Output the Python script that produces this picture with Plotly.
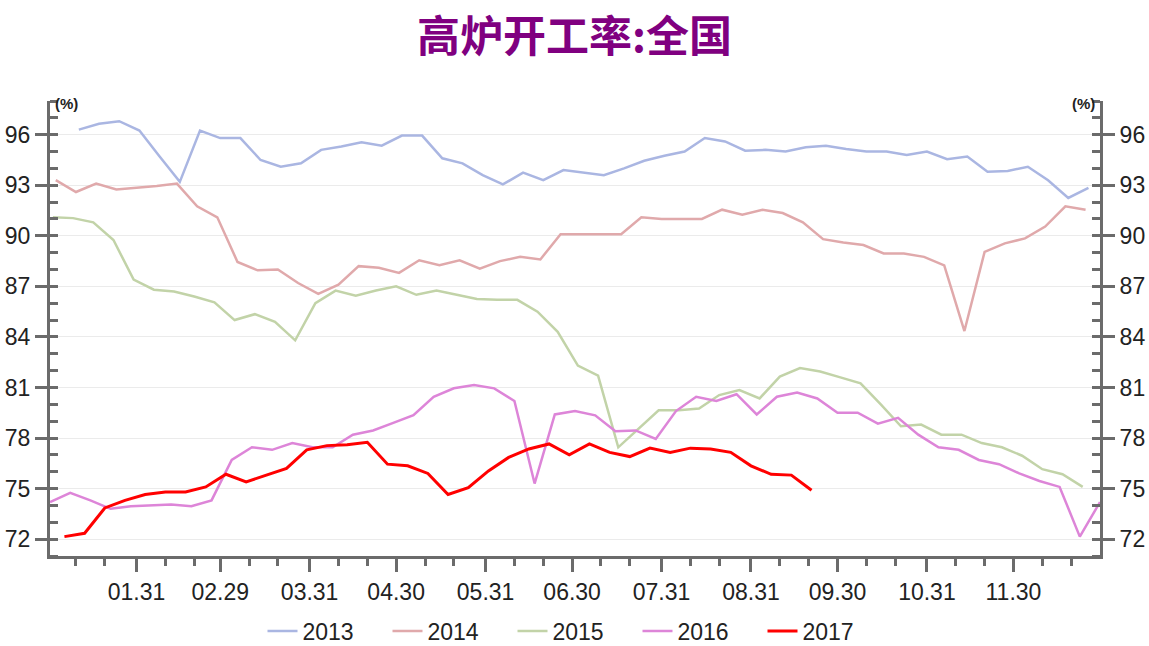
import pandas as pd
import plotly.graph_objects as go

# weekly blast furnace utilisation (%), each year mapped onto one calendar
v2013 = [96.3, 96.65, 96.8, 96.25, 94.7, 93.2, 96.25, 95.8, 95.8, 94.5, 94.1, 94.3, 95.1, 95.3, 95.55,
         95.35, 95.95, 95.95, 94.6, 94.3, 93.6, 93.05, 93.75, 93.3, 93.9, 93.75, 93.6, 94.0, 94.45, 94.75,
         95.0, 95.8, 95.6, 95.05, 95.1, 95.0, 95.25, 95.35, 95.15, 95.0, 95.0, 94.8, 95.0, 94.55, 94.7,
         93.8, 93.85, 94.1, 93.3, 92.25, 92.85]
v2014 = [93.3, 92.6, 93.1, 92.75, 92.85, 92.95, 93.1, 91.75, 91.1, 88.45, 87.95, 88.0, 87.2, 86.55, 87.1,
         88.2, 88.1, 87.8, 88.55, 88.25, 88.55, 88.05, 88.5, 88.75, 88.6, 90.1, 90.1, 90.1, 90.1, 91.1,
         91.0, 91.0, 91.0, 91.55, 91.25, 91.55, 91.35, 90.8, 89.8, 89.6, 89.45, 88.95, 88.95, 88.75, 88.25,
         84.35, 89.05, 89.55, 89.85, 90.55, 91.75, 91.55]
v2015 = [91.1, 91.05, 90.8, 89.75, 87.4, 86.8, 86.7, 86.4, 86.05, 85.0, 85.35, 84.9, 83.8, 86.0, 86.75,
         86.45, 86.75, 87.0, 86.5, 86.75, 86.5, 86.25, 86.2, 86.2, 85.5, 84.3, 82.3, 81.7, 77.45, 78.55,
         79.65, 79.65, 79.75, 80.55, 80.85, 80.35, 81.65, 82.15, 81.95, 81.6, 81.25, 80.0, 78.7, 78.8, 78.2,
         78.2, 77.7, 77.45, 76.95, 76.15, 75.85, 75.1]
v2016 = [74.2, 74.75, 74.3, 73.8, 73.95, 74.0, 74.05, 73.95, 74.3, 76.7, 77.45, 77.3, 77.7, 77.45, 77.45,
         78.2, 78.45, 78.9, 79.35, 80.45, 80.95, 81.15, 80.95, 80.2, 75.3, 79.4, 79.6, 79.35, 78.4, 78.45,
         77.95, 79.6, 80.45, 80.2, 80.6, 79.4, 80.45, 80.7, 80.35, 79.5, 79.5, 78.85, 79.2, 78.2, 77.45,
         77.3, 76.7, 76.45, 75.9, 75.45, 75.1, 72.15, 74.2]
v2017 = [72.15, 72.35, 73.85, 74.3, 74.65, 74.8, 74.8, 75.1, 75.85, 75.4, 75.8, 76.2, 77.3, 77.55, 77.6,
         77.75, 76.45, 76.35, 75.9, 74.65, 75.05, 76.05, 76.85, 77.35, 77.65, 77.0, 77.65, 77.15, 76.9, 77.4,
         77.15, 77.4, 77.35, 77.15, 76.35, 75.85, 75.8, 74.9]

# first release date of each year, as month-day on the shared axis
starts = ["2016-01-11", "2016-01-03", "2016-01-02", "2016-01-01", "2016-01-06"]
years = ["2013", "2014", "2015", "2016", "2017"]
colors = ["#aab6e2", "#e0a9ab", "#c2d3a8", "#dd85d8", "#ff0000"]
widths = [2.5, 2.5, 2.5, 2.5, 3]

tick_dates = ["2016-01-31", "2016-02-29", "2016-03-31", "2016-04-30", "2016-05-31", "2016-06-30",
              "2016-07-31", "2016-08-31", "2016-09-30", "2016-10-31", "2016-11-30"]
tick_text = ["01.31", "02.29", "03.31", "04.30", "05.31", "06.30", "07.31", "08.31", "09.30", "10.31", "11.30"]
minor_dates = [f"2016-{m:02d}-{d}" for m in range(1, 13) for d in (10, 20)]

fig = go.Figure()
for name, vals, start, c, w in zip(years, [v2013, v2014, v2015, v2016, v2017], starts, colors, widths):
    x = pd.date_range(start, periods=len(vals), freq="7D")
    # 2017 sits on the right-hand axis (same scale) so that axis gets drawn
    fig.add_trace(go.Scatter(x=x, y=vals, mode="lines", name=name, line=dict(color=c, width=w),
                             yaxis="y2" if name == "2017" else "y"))

axis_col = "#6b6b6b"
yaxis_common = dict(
    range=[71, 98], tickvals=list(range(72, 97, 3)), ticks="outside", ticklen=12, tickwidth=3,
    tickcolor=axis_col, showline=True, linecolor=axis_col, linewidth=3, zeroline=False, automargin=False,
    tickfont=dict(family="Liberation Sans", size=23, color="#222222"),
    minor=dict(dtick=1, tick0=71, ticks="inside", ticklen=8, tickwidth=3, tickcolor=axis_col, showgrid=False),
)

fig.update_layout(
    width=1149, height=646,
    margin=dict(l=50, r=49, t=101, b=90, autoexpand=False),
    paper_bgcolor="white", plot_bgcolor="white",
    title=dict(text="高炉开工率:全国", x=0.5, xanchor="center", y=1 - 37 / 646, yanchor="middle",
               font=dict(family="Noto Sans CJK SC", size=43, color="#800080", weight="bold")),
    xaxis=dict(
        type="date", range=["2016-01-01", "2016-12-30"], tickvals=tick_dates, ticktext=tick_text,
        ticks="outside", ticklen=13, tickwidth=3, tickcolor=axis_col, showline=True, linecolor=axis_col,
        linewidth=3, showgrid=False, automargin=False,
        tickfont=dict(family="Liberation Sans", size=23, color="#222222"),
        minor=dict(tickvals=minor_dates, ticks="outside", ticklen=7, tickwidth=3, tickcolor=axis_col,
                   showgrid=False),
    ),
    yaxis=dict(showgrid=True, gridcolor="#ebebeb", gridwidth=1, **yaxis_common),
    yaxis2=dict(overlaying="y", side="right", showgrid=False, **yaxis_common),
    legend=dict(orientation="h", x=0.5, xanchor="center", y=-0.165, yanchor="middle",
                font=dict(family="Liberation Sans", size=23, color="#222222"),
                entrywidth=80, entrywidthmode="pixels"),
    showlegend=True,
)

fig.add_annotation(text="<b>(%)</b>", xref="paper", yref="paper", x=0, y=1, xanchor="left", yanchor="middle",
                   xshift=3, yshift=-2, showarrow=False, font=dict(family="Liberation Sans", size=15, color="#222"))
fig.add_annotation(text="<b>(%)</b>", xref="paper", yref="paper", x=1, y=1, xanchor="right", yanchor="middle",
                   xshift=-3, yshift=-2, showarrow=False, font=dict(family="Liberation Sans", size=15, color="#222"))

# drop the browser's default 8px body margin so the figure sits at the page corner
fig.write_html("out.html", config={"displayModeBar": False},
               post_script="document.body.style.margin='0';")
